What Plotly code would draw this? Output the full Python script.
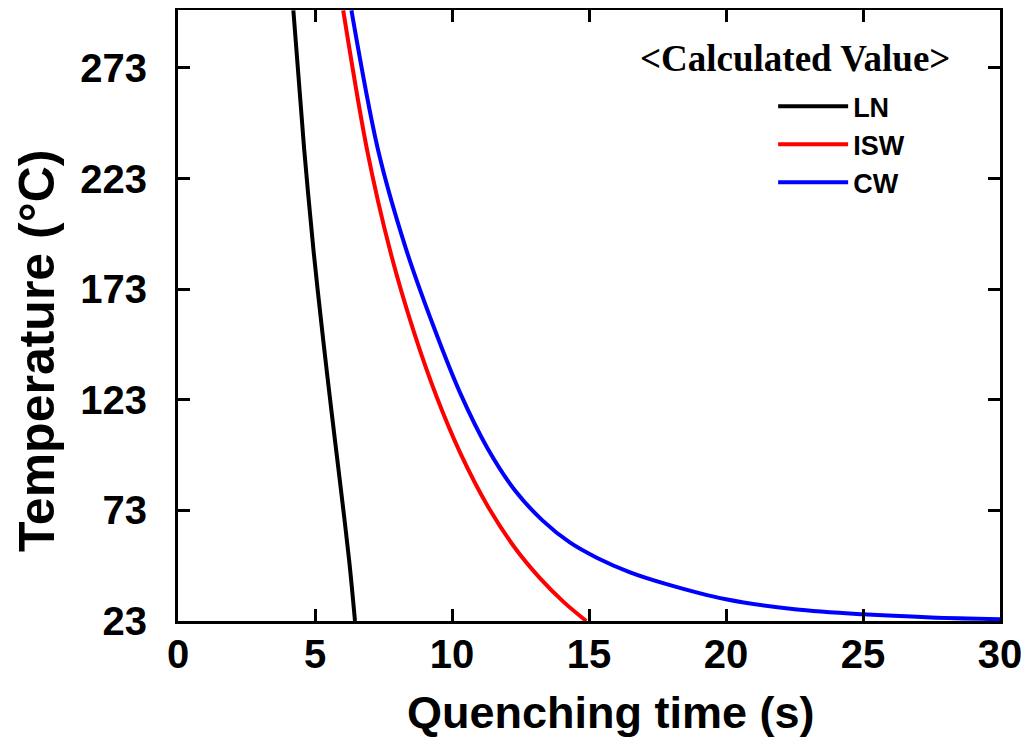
import plotly.graph_objects as go

# Data (time in s, temperature in °C)
ln_time = [4.21, 4.60, 4.95, 5.30, 5.60, 5.95, 6.25, 6.46]
ln_temp = [299, 237, 190, 150, 118, 82, 50, 23]

isw_time = [6.03, 6.90, 7.75, 8.60, 9.45, 10.30, 11.30, 12.30, 13.20, 14.10, 14.90]
isw_temp = [299, 236, 190, 154, 124, 99, 75, 56, 42.5, 31.3, 23]

cw_time = [6.33, 7.30, 8.30, 9.30, 10.30, 11.30, 12.30, 13.30, 14.30, 15.30, 16.50, 17.80, 20.00, 22.50, 25.00, 27.50, 30.00]
cw_temp = [299, 236, 192, 157, 126, 101, 82, 68.5, 58.5, 51.5, 45, 39.8, 32.8, 28.3, 26, 24.6, 23.8]

x_ticks = [0, 5, 10, 15, 20, 25, 30]
y_ticks = [23, 73, 123, 173, 223, 273]

series = [
    ("LN", ln_time, ln_temp, "#000000"),
    ("ISW", isw_time, isw_temp, "#ff0000"),
    ("CW", cw_time, cw_temp, "#0000ff"),
]

fig = go.Figure()
for name, t, T, color in series:
    fig.add_trace(go.Scatter(
        x=t, y=T, mode="lines", name=name, legendgroup=name,
        line=dict(color=color, width=4, shape="spline", smoothing=0.9),
    ))

sans = "Liberation Sans, Arial, sans-serif"
axis_common = dict(
    ticks="inside", ticklen=12, tickwidth=3, tickcolor="black",
    showline=True, linewidth=3, linecolor="black", mirror="allticks",
    showgrid=False, zeroline=False,
    tickfont=dict(family=sans, size=40, color="black", weight="bold"),
)

fig.update_xaxes(
    range=[0, 30], tickvals=x_ticks, ticktext=[str(v) for v in x_ticks],
    ticklabelstandoff=-4,
    **axis_common,
)
fig.update_yaxes(
    range=[23, 299.2], tickvals=y_ticks, ticktext=[str(v) for v in y_ticks],
    ticklabelstandoff=20,
    **axis_common,
)

# Axis titles (placed as annotations to match the reference offsets)
fig.add_annotation(
    x=(611 - 178) / 822, y=(621 - 712) / 611, xref="paper", yref="paper",
    showarrow=False, text="Quenching time (s)", xanchor="center", yanchor="middle",
    font=dict(family=sans, size=45, color="black", weight="bold"),
)
fig.add_annotation(
    x=(37 - 178) / 822, y=(621 - 351) / 611, xref="paper", yref="paper",
    showarrow=False, text="Temperature (°C)", textangle=-90,
    xanchor="center", yanchor="middle",
    font=dict(family=sans, size=50, color="black", weight="bold"),
)

fig.add_annotation(
    x=0.751, y=0.92, xref="paper", yref="paper", showarrow=False,
    text="<Calculated Value>", xanchor="center", yanchor="middle",
    font=dict(family="Liberation Serif, Times New Roman, serif", size=37,
              color="black", weight="bold"),
)

fig.update_layout(
    width=1021, height=738,
    margin=dict(l=170, r=29, t=2, b=125, autoexpand=False),
    paper_bgcolor="white", plot_bgcolor="white",
    showlegend=True,
    legend=dict(
        x=0.724, y=0.882, xanchor="left", yanchor="top",
        bgcolor="rgba(0,0,0,0)", borderwidth=0,
        font=dict(family=sans, size=27, color="black", weight="bold"),
        tracegroupgap=0, itemwidth=70,
    ),
)

fig.write_html("out.html")
